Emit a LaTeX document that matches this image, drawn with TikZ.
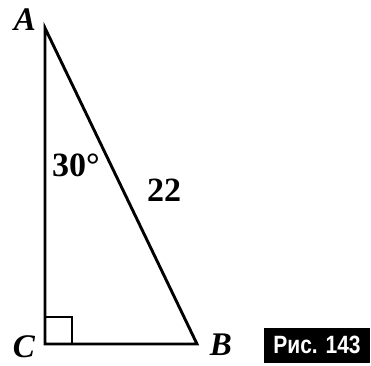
\documentclass[tikz,border=0pt]{standalone}
\usepackage{fontspec}
\setmainfont{Liberation Serif}
\newfontfamily\boxfont{Liberation Sans}
\tikzset{
  edge/.style={line width=2.9pt, line join=miter},
  vlabel/.style={inner sep=0pt, font=\fontsize{33}{33}\selectfont\bfseries\itshape},
  numlabel/.style={inner sep=0pt, font=\fontsize{34}{34}\selectfont\bfseries},
  figbox/.style={fill=black, text=white, inner sep=0pt, minimum width=106pt, minimum height=35pt, font=\fontsize{25}{25}\selectfont\boxfont\bfseries}
}
\begin{document}
\begin{tikzpicture}[x=1pt,y=1pt]
\useasboundingbox (0,0) rectangle (371,365);
\coordinate (A) at (45,337);
\coordinate (C) at (45,21);
\coordinate (B) at (197,21);
\draw[edge] (A) -- (C) -- (B) -- cycle;
\coordinate (S1) at (72,21);
\coordinate (S2) at (72,48);
\coordinate (S3) at (45,48);
\draw[line width=2.4pt] (S1) -- (S2) -- (S3);
\node[vlabel] (lA) at (25,345) {A};
\node[vlabel] (lC) at (24,18) {C};
\node[vlabel] (lB) at (221,20) {B};
\node[numlabel] (ang) at (76,200) {30°};
\node[numlabel] (len) at (164,175) {22};
\node[figbox] (fig) at (317,20) {\scalebox{0.84}[1]{Рис. 143}};
\end{tikzpicture}
\end{document}
